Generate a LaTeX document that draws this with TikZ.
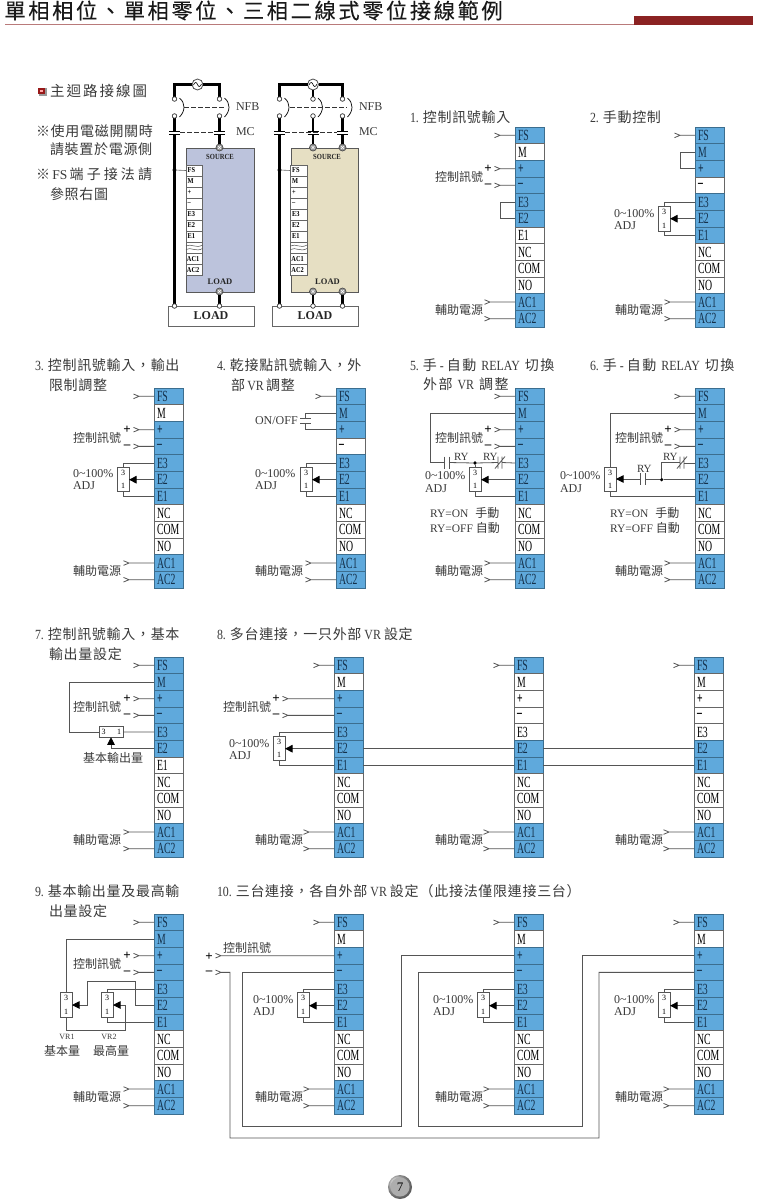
\documentclass[tikz,border=0pt]{standalone}
\usepackage{fontspec}
\usetikzlibrary{arrows.meta}
\setmainfont{Liberation Serif}
\newfontfamily\cjk{Noto Sans CJK TC}
\newfontfamily\cjkc[LetterSpace=5]{Noto Sans CJK TC}
\newfontfamily\cjkw[LetterSpace=11]{Noto Sans CJK TC}
\newfontfamily\cjkt[LetterSpace=12.5,FakeBold=0.2]{Noto Sans CJK TC}
\newfontfamily\narrowf[FakeStretch=0.63]{Liberation Serif}
\newfontfamily\ltn[FakeStretch=0.85]{Liberation Serif}
\newcommand\fsz[1]{\fontsize{#1}{#1}\selectfont}
\newcommand\ls[1]{{\ltn #1}}
\newcommand\cmm{\char"FF0C\relax}
\newcommand\lpr{\char"FF08\relax}
\newcommand\rpr{\char"FF09\relax}
\newcommand\mns{\char"2013\relax}
\definecolor{cellblue}{HTML}{5FA9DC}
\definecolor{bluebd}{HTML}{3C6E8F}
\definecolor{whitebd}{HTML}{666666}
\definecolor{celltxt}{HTML}{14304A}
\definecolor{wirec}{HTML}{555555}
\definecolor{txtc}{HTML}{3A3A3A}
\definecolor{boxa}{HTML}{BCC3DC}
\definecolor{boxb}{HTML}{E6DFC3}
\definecolor{titlered}{HTML}{8B2222}
\newcounter{tn}
\tikzset{
  cell/.style={rectangle,minimum width=29pt,minimum height=16.67pt,inner sep=0pt,outer sep=0pt,
    anchor=north west,line width=.7pt,align=left},
  wire/.style={draw=wirec,line width=.8pt},
  heavy wire/.style={draw=black,line width=2.2pt},
  vrbox/.style={rectangle,draw=wirec,fill=white,line width=.7pt,minimum width=12pt,minimum height=24.5pt,inner sep=0pt,outer sep=0pt},
  hvrbox/.style={rectangle,draw=wirec,fill=white,line width=.7pt,minimum width=24pt,minimum height=10.5pt,inner sep=0pt,outer sep=0pt},
  potarrow/.style={-{Triangle[length=7.5pt,width=7.5pt,fill=black,color=black]}},
  tlabel/.style={inner sep=0pt,outer sep=0pt,anchor=west,text=txtc},
  sterm/.style={rectangle,draw=whitebd,fill=white,line width=.6pt,minimum width=16.5pt,minimum height=11pt,inner sep=0pt,outer sep=0pt,anchor=north west},
  smallc/.style={circle,draw=black!75,fill=white,line width=.6pt,minimum size=4.4pt,inner sep=0pt,outer sep=0pt},
  screw/.style={circle,draw=black!70,fill=black!40,line width=.7pt,minimum size=7pt,inner sep=0pt,outer sep=0pt},
  acc/.style={circle,draw=black!70,fill=white,line width=.8pt,minimum size=11pt,inner sep=0pt,outer sep=0pt},
}
% text label: x, y, font, text
\newcommand\lab[4]{\stepcounter{tn}\node[tlabel,font=#3] (t\arabic{tn}) at (#1,#2) {#4};}
\newcommand\capt[3]{\lab{#1}{#2}{\cjkc\fsz{14}}{#3}}
\newcommand\capw[3]{\lab{#1}{#2}{\cjkw\fsz{14}}{#3}}
\newcommand\ser[3]{\lab{#1}{#2}{\rmfamily\fsz{12}}{#3}}
% terminal strip: name, x, y, 12 flags
\newcommand\tstrip[4]{%
  \foreach \k/\tt [count=\i from 0] in {FS/FS,M/M,P/\textbf{+},N/\textbf{\mns},E3/E3,E2/E2,E1/E1,NC/NC,COM/COM,NO/NO,AC1/AC1,AC2/AC2}{%
    \pgfmathparse{{#4}[\i]}%
    \ifdim\pgfmathresult pt>0.5pt
      \def\cf{cellblue}\def\cb{bluebd}\def\ct{celltxt}%
    \else
      \def\cf{white}\def\cb{whitebd}\def\ct{black}%
    \fi
    \node[cell,fill=\cf,draw=\cb,text=\ct] (#1-\k) at (#2,{#3+\i*16.67}) {};
    \node[inner sep=0pt,anchor=west,font=\narrowf\fsz{15.5},text=\ct] (#1-\k-t) at ([xshift=2.8pt]#1-\k.west) {\tt};
  }%
}
% wire with chevron: terminal, length
\newcommand\feed[2]{\draw[wire] (#1.west) -- ++(-#2,0) -- ++(-5.5,-2.3) ++(5.5,2.3) -- ++(-5.5,2.3);}
\newcommand\fsac[4]{% name, fs length, ac length, label x
  \feed{#1-FS}{#2}\feed{#1-AC1}{#3}\feed{#1-AC2}{#3}%
  \path (#1-AC1.west) -- (#1-AC2.west) coordinate[pos=.5] (#1-acm);
  \stepcounter{tn}\node[tlabel,font=\cjk\fsz{12}] (t\arabic{tn}) at (#4,0 |- #1-acm) {輔助電源};
}
% control signal inputs: name, label x, feed length
\newcommand\ctrl[3]{%
  \feed{#1-P}{#3}\feed{#1-N}{#3}%
  \path (#1-P.west) -- (#1-N.west) coordinate[pos=.5] (#1-cm);
  \stepcounter{tn}\node[tlabel,font=\cjk\fsz{12}] (t\arabic{tn}) at (#2,0 |- #1-cm) {控制訊號};
  \stepcounter{tn}\node[inner sep=0pt,font=\rmfamily\bfseries\fsz{13},text=black,xshift=-#3*1pt-12pt] (t\arabic{tn}) at (#1-P.west) {+};
  \stepcounter{tn}\node[inner sep=0pt,font=\rmfamily\bfseries\fsz{13},text=black,xshift=-#3*1pt-12pt] (t\arabic{tn}) at (#1-N.west) {\mns};
}
\newcommand\potbox[3]{% name, x centre, y centre
  \node[vrbox] (#1) at (#2,#3) {};
  \node[inner sep=0pt,font=\rmfamily\fsz{8},text=black] (#1-3) at ([yshift=6.7pt,xshift=.2pt]#1.center) {3};
  \node[inner sep=0pt,font=\rmfamily\fsz{8},text=black] (#1-1) at ([yshift=-6.7pt,xshift=.2pt]#1.center) {1};
}
\newcommand\potwire[2]{% pot, strip
  \draw[wire] (#2-E3.west) -| ([xshift=.2pt]#1.north);
  \draw[wire] (#2-E1.west) -| ([xshift=.2pt]#1.south);
  \draw[wire,potarrow,line width=.9pt] (#2-E2.west) -- (#1.east |- #2-E2.west);
}
\newcommand\adj[3]{\ser{#1}{#2}{0\textasciitilde 100\%}\ser{#1}{#3}{ADJ}}
% contact helpers
\newcommand\nocontact[2]{\draw[wire] (#1-4.5,#2-6)--(#1-4.5,#2+6) (#1,#2-6)--(#1,#2+6);}
\newcommand\nccontact[2]{\draw[wire] (#1-4,#2-6)--(#1-4,#2+6) (#1,#2-6)--(#1,#2+6) (#1-7,#2+6)--(#1+3,#2-6);}
% main circuit pieces
\newcommand\poleup[2]{%
  \node[smallc] (u#1) at (#2,99) {};
  \node[smallc] (l#1) at (#2,116) {};
  \node[smallc] (b#1) at (#2,306) {};
}
\newcommand\contact[1]{\draw[black,line width=.9pt] (#1-5.5,131)--(#1+5.5,131) (#1-5.5,134.2)--(#1+5.5,134.2);}
\newcommand\breaker[1]{\draw[black,line width=.7pt] (#1+5,98) .. controls (#1+11,103) and (#1+11,111) .. (#1+5,117);}
\newcommand\sterms[2]{% name, x
  \foreach \k/\tt [count=\i from 0] in {FS/FS,M/M,P/+,N/\mns,E3/E3,E2/E2,E1/E1}{%
    \node[sterm] (s#1-\k) at (#2,{165+\i*11}) {};
    \node[inner sep=0pt,anchor=west,font=\ltn\bfseries\fsz{7.5},text=black] (s#1-\k-t) at ([xshift=1.5pt]s#1-\k.west) {\tt};
  }
  \node[sterm,minimum height=11.5pt] (s#1-W) at (#2,242) {};
  \draw[black!70,line width=.5pt] (#2,246) .. controls (#2+5,243) and (#2+10,249) .. (#2+16.5,245)
    (#2,249.5) .. controls (#2+5,246.5) and (#2+10,252.5) .. (#2+16.5,248.5);
  \node[sterm] (s#1-AC1) at (#2,253.5) {};
  \node[inner sep=0pt,anchor=west,font=\ltn\bfseries\fsz{7.5},text=black] (s#1-AC1-t) at ([xshift=.7pt]s#1-AC1.west) {AC1};
  \node[sterm] (s#1-AC2) at (#2,264.5) {};
  \node[inner sep=0pt,anchor=west,font=\ltn\bfseries\fsz{7.5},text=black] (s#1-AC2-t) at ([xshift=.7pt]s#1-AC2.west) {AC2};
}
\begin{document}
\begin{tikzpicture}[x=1pt,y=-1pt]
\useasboundingbox (0,0) rectangle (758,1200);
\fill[white] (0,0) rectangle (758,1200);
% title
\node[tlabel,font=\cjkt\fsz{21.2},text=black!90] (title) at (4.5,10.5) {單相相位、單相零位、三相二線式零位接線範例};
\draw[titlered!60!white,line width=.7pt] (5,24.5) -- (634,24.5);
\fill[titlered] (634,16) rectangle (753,25);
% main notes
\fill[black!40] (38.5,88) rectangle (46.5,95.5);
\fill[red!55!black!90!white] (38.2,87.5) rectangle (45,94);
\fill[red!35!white] (40,89.5) rectangle (43.2,92.3);
\lab{50}{91}{\cjkc\fsz{14.5}\addfontfeature{LetterSpace=14}}{主迴路接線圖}
\lab{36}{131}{\cjkc\fsz{14}}{※使用電磁開關時}
\lab{50}{149.5}{\cjkc\fsz{14}}{請裝置於電源側}
\lab{36}{174}{\cjkc\fsz{14}}{※\,{\rmfamily\fsz{13.5}FS}\,\addfontfeature{LetterSpace=22}端子接法請}
\lab{50}{194}{\cjkc\fsz{14}}{參照右圖}
% main circuit boxes
\node[rectangle,fill=boxa,draw=black!65,line width=.7pt,minimum width=67.5pt,minimum height=144pt,inner sep=0pt,anchor=north west] (boxA) at (186,147.5) {};
\node[rectangle,fill=boxb,draw=black!65,line width=.7pt,minimum width=67pt,minimum height=144pt,inner sep=0pt,anchor=north west] (boxB) at (290.5,147.5) {};
\node[rectangle,fill=white,draw=black!60,line width=.7pt,minimum width=86pt,minimum height=20.5pt,inner sep=0pt,anchor=north west] (loadA) at (167.5,305.5) {};
\node[rectangle,fill=white,draw=black!60,line width=.7pt,minimum width=86pt,minimum height=20.5pt,inner sep=0pt,anchor=north west] (loadB) at (272,305.5) {};
\node[inner sep=0pt,font=\rmfamily\bfseries\fsz{12},text=black!85] (loadAt) at (211,316) {LOAD};
\node[inner sep=0pt,font=\rmfamily\bfseries\fsz{12},text=black!85] (loadBt) at (315,316) {LOAD};
% pole markers
\poleup{A}{174.5}\poleup{B}{219.5}\poleup{C}{279.5}\poleup{D}{313}\poleup{E}{342.5}
\node[acc] (acA) at (197.5,84.5) {};
\node[acc] (acB) at (313,84.5) {};
\draw[black,line width=.6pt] (193.5,85) .. controls (195,81.5) and (196.5,82) .. (197.5,84.5) .. controls (198.5,87) and (200,87.5) .. (201.5,84);
\draw[black,line width=.6pt] (309,85) .. controls (310.5,81.5) and (312,82) .. (313,84.5) .. controls (314,87) and (315.5,87.5) .. (317,84);
% heavy wires
\draw[heavy wire] (acA.west) -| (uA.north);
\draw[heavy wire] (acA.east) -| (uB.north);
\draw[heavy wire] (acB.west) -| (uC.north);
\draw[heavy wire] (acB.south) -- (uD.north);
\draw[heavy wire] (acB.east) -| (uE.north);
\draw[heavy wire] (lA.south) -- (bA.north);
\draw[heavy wire] (lC.south) -- (bC.north);
\node[screw] (sa1) at (219.5,147.5) {};
\node[screw] (sb1) at (313,147.5) {};
\node[screw] (sb2) at (342.5,147.5) {};
\node[screw] (la1) at (219.5,291.5) {};
\node[screw] (lb1) at (313,291.5) {};
\node[screw] (lb2) at (342.5,291.5) {};
\foreach \a/\b in {lB/sa1,lD/sb1,lE/sb2,la1/bB,lb1/bD,lb2/bE} \draw[heavy wire] (\a) -- (\b);
\foreach \a in {sa1,sb1,sb2,la1,lb1,lb2}{
  \draw[white,line width=.5pt] ([shift={(-1.5,-1.5)}]\a.center)--([shift={(1.5,1.5)}]\a.center) ([shift={(-1.5,1.5)}]\a.center)--([shift={(1.5,-1.5)}]\a.center);}
\foreach \a in {uA,lA,uB,lB,uC,lC,uD,lD,uE,lE,bA,bB,bC,bD,bE}
  \node[smallc] at (\a) {};
% breakers
\breaker{174.5}\breaker{219.5}\breaker{279.5}\breaker{313}\breaker{342.5}
\draw[black!80,line width=.6pt,dash pattern=on 4.5pt off 2.5pt] (184,107.5) -- (225,107.5);
\draw[black!80,line width=.6pt,dash pattern=on 4.5pt off 2.5pt] (290,107.5) -- (347,107.5);
\foreach \x in {174.5,219.5,279.5,313,342.5}{\fill[white] (\x-3,131.6) rectangle (\x+3,133.6);\contact{\x}}
\draw[black!80,line width=.6pt,dash pattern=on 4.5pt off 2.5pt] (180,132.5) -- (214,132.5);
\draw[black!80,line width=.6pt,dash pattern=on 4.5pt off 2.5pt] (285,132.5) -- (337,132.5);
\ser{236}{107}{NFB}\ser{236}{132}{MC}\ser{359}{107}{NFB}\ser{359}{132}{MC}
\node[inner sep=0pt,font=\ltn\bfseries\fsz{7.8},text=black!85] (srcA) at (220,157) {SOURCE};
\node[inner sep=0pt,font=\ltn\bfseries\fsz{7.8},text=black!85] (srcB) at (327,157) {SOURCE};
\node[inner sep=0pt,font=\rmfamily\bfseries\fsz{8.5},text=black!85] (lA) at (220,282) {LOAD};
\node[inner sep=0pt,font=\rmfamily\bfseries\fsz{8.5},text=black!85] (lB) at (327.5,282) {LOAD};
\sterms{A}{186}\sterms{B}{290.5}
\node[circle,fill=black,minimum size=4pt,inner sep=0pt] (dA) at (174.5,170) {};
\node[circle,fill=black,minimum size=4pt,inner sep=0pt] (dB) at (279.5,170) {};
\draw[black!60,line width=.6pt] (dA) -- (sA-FS.west);
\draw[black!60,line width=.6pt] (dB) -- (sB-FS.west);
% === panels
\capt{410}{117}{\ls{1. }控制訊號輸入}
\tstrip{p1}{515}{127}{1,0,1,1,1,1,0,0,0,0,1,1}
\fsac{p1}{15}{25}{435}\ctrl{p1}{435}{15}
\draw[wire] (p1-E3.west) -- ++(-15,0) |- (p1-E2.west);
%
\capt{590}{117}{\ls{2. }手動控制}
\tstrip{p2}{695}{127}{1,1,1,0,1,1,1,0,0,0,1,1}
\fsac{p2}{15}{25}{615}
\draw[wire] (p2-M.west) -- ++(-15,0) |- (p2-P.west);
\potbox{v2}{664}{219}\potwire{v2}{p2}\adj{614}{214}{226}
%
\capt{35}{365}{\ls{3. }控制訊號輸入\cmm 輸出}\capt{49}{385}{限制調整}
\tstrip{p3}{154}{388}{1,0,1,1,1,1,1,0,0,0,1,1}
\fsac{p3}{15}{25}{73}\ctrl{p3}{73}{15}
\potbox{v3}{123}{479.5}\potwire{v3}{p3}\adj{73}{474}{486}
%
\capt{217}{365}{\ls{4. }乾接點訊號輸入\cmm 外}\capt{231}{385}{部\,\ls{VR}\,調整}
\tstrip{p4}{336}{388}{1,1,1,0,1,1,1,0,0,0,1,1}
\fsac{p4}{15}{25}{255}
\coordinate (c4a) at (300,418.5);\coordinate (c4b) at (311,418.5);\coordinate (c4c) at (300,423.5);\coordinate (c4d) at (311,423.5);
\draw[wire] (c4a) -- (c4b) (c4c) -- (c4d);
\draw[wire] (p4-M.west) -| (305.5,418.5);
\draw[wire] (p4-P.west) -| (305.5,423.5);
\ser{255}{421}{ON/OFF}
\potbox{v4}{306}{479.5}\potwire{v4}{p4}\adj{255}{474}{486}
%
\capw{410}{365}{\ls{5. }手\hspace{3pt}\ls{-}\hspace{3pt}自動\hspace{5pt}\ls{RELAY}\hspace{5pt}切換}\capw{423}{384}{外部\hspace{5pt}\ls{VR}\hspace{5pt}調整}
\tstrip{p5}{515}{388}{1,1,1,1,1,1,1,0,0,0,1,1}
\fsac{p5}{15}{25}{435}\ctrl{p5}{435}{15}
\potbox{v5}{475}{479.5}
\draw[wire,potarrow,line width=.9pt] (p5-E2.west) -- (v5.east |- p5-E2.west);
\draw[wire] (p5-E1.west) -| (v5.south);
\node[circle,fill=black,minimum size=3.6pt,inner sep=0pt] (d5) at (v5.center |- p5-E3.west) {};
\draw[wire] (d5) -- (v5.north);
\draw[wire] (p5-M.west) -| (430,462.5) -- (444.5,462.5);
\nocontact{449}{462.5}
\draw[wire] (449,462.5) -- (d5) -- (498,462.5);
\nccontact{502}{462.5}
\draw[wire] (502,462.5) -- (p5-E3.west);
\lab{454}{456.5}{\rmfamily\fsz{11}}{RY}\lab{483}{456.5}{\rmfamily\fsz{11}}{RY}
\adj{425}{476}{489}
\lab{430}{513}{\rmfamily\fsz{11.5}}{RY=ON\hspace{7pt}{\cjk\fsz{12}手動}}
\lab{430}{528}{\rmfamily\fsz{11.5}}{RY=OFF\hspace{3pt}{\cjk\fsz{12}自動}}
%
\capw{590}{365}{\ls{6. }手\hspace{3pt}\ls{-}\hspace{3pt}自動\hspace{5pt}\ls{RELAY}\hspace{5pt}切換}
\tstrip{p6}{695}{388}{1,1,1,1,1,1,1,0,0,0,1,1}
\fsac{p6}{15}{25}{615}\ctrl{p6}{615}{15}
\potbox{v6}{610}{479.5}
\node[circle,fill=black,minimum size=3.6pt,inner sep=0pt] (d6) at (661.7,0 |- p6-E2.west) {};
\draw[wire] (p6-M.west) -| (v6.north);
\draw[wire] (p6-E1.west) -| (v6.south);
\draw[wire] (p6-E2.west) -- (d6) -- (645,0 |- d6);
\nocontact{645}{479}
\draw[wire,potarrow,line width=.9pt] (640.5,479) -- (v6.east |- 640.5,479);
\draw[wire] (p6-E3.west) -- (684,0 |- p6-E3.west);
\nccontact{684}{462.5}
\draw[wire] (680,462.5) -| (d6);
\lab{637}{469}{\rmfamily\fsz{11}}{RY}\lab{663}{457}{\rmfamily\fsz{11}}{RY}
\adj{560}{476}{489}
\lab{610}{513}{\rmfamily\fsz{11.5}}{RY=ON\hspace{7pt}{\cjk\fsz{12}手動}}
\lab{610}{528}{\rmfamily\fsz{11.5}}{RY=OFF\hspace{3pt}{\cjk\fsz{12}自動}}
%
\capt{35}{634}{\ls{7. }控制訊號輸入\cmm 基本}\capt{49}{654}{輸出量設定}
\tstrip{p7}{154}{657}{1,1,1,1,1,1,0,0,0,0,1,1}
\fsac{p7}{15}{25}{73}\ctrl{p7}{73}{15}
\node[hvrbox] (v7) at (111,732) {};
\node[inner sep=0pt,font=\rmfamily\fsz{8},text=black] (v7-3) at (103.5,732) {3};
\node[inner sep=0pt,font=\rmfamily\fsz{8},text=black] (v7-1) at (119,732) {1};
\draw[wire] (p7-M.west) -| (69,732) -- (v7.west);
\draw[wire] (v7.east) -- (p7-E3.west);
\draw[wire,potarrow,line width=.9pt] (p7-E2.west) -| (v7.south);
\lab{83}{758}{\cjk\fsz{12}}{基本輸出量}
%
\capt{217}{634}{\ls{8. }多台連接\cmm 一只外部\hspace{3pt}\ls{VR}\hspace{3pt}設定}
\tstrip{p8a}{334}{657}{1,0,1,1,1,1,1,0,0,0,1,1}
\tstrip{p8b}{514}{657}{1,0,0,0,0,1,1,0,0,0,1,1}
\tstrip{p8c}{694}{657}{1,0,0,0,0,1,1,0,0,0,1,1}
\fsac{p8a}{15}{25}{255}\fsac{p8b}{15}{25}{435}\fsac{p8c}{15}{25}{615}
\ctrl{p8a}{223}{46}
\potbox{v8}{279}{748.5}\potwire{v8}{p8a}\adj{229}{744}{756}
\draw[wire] (p8a-E2.east) -- (p8b-E2.west) (p8b-E2.east) -- (p8c-E2.west);
\draw[wire] (p8a-E1.east) -- (p8b-E1.west) (p8b-E1.east) -- (p8c-E1.west);
%
\capt{35}{891}{\ls{9. }基本輸出量及最高輸}\capt{49}{911}{出量設定}
\tstrip{p9}{154}{914}{1,1,1,1,1,1,1,0,0,0,1,1}
\fsac{p9}{15}{25}{73}\ctrl{p9}{73}{15}
\potbox{v9a}{66}{1005}\potbox{v9b}{107}{1005}
\draw[wire] (p9-M.west) -| (v9a.north);
\draw[wire] (p9-E3.west) -| (v9b.north);
\draw[wire] (p9-E1.west) -| (v9b.south);
\draw[wire,potarrow,line width=.9pt] (p9-E2.west) -| (135.5,981) -| (87,1005) -- (v9a.east);
\draw[wire,potarrow,line width=.9pt] (v9a.south) |- (125.5,1030) |- (v9b.east);
\node[inner sep=0pt,font=\rmfamily\fsz{8},text=txtc] (vr1) at (67,1037) {VR1};
\node[inner sep=0pt,font=\rmfamily\fsz{8},text=txtc] (vr2) at (109,1037) {VR2};
\lab{44}{1051}{\cjk\fsz{12}}{基本量}\lab{93}{1051}{\cjk\fsz{12}}{最高量}
%
\capt{217}{891}{\ls{10. }三台連接\cmm 各自外部\hspace{3pt}\ls{VR}\hspace{3pt}設定\hspace{1pt}\lpr 此接法僅限連接三台\rpr}
\tstrip{p10a}{334}{914}{1,0,1,1,1,1,1,0,0,0,1,1}
\tstrip{p10b}{514}{914}{1,0,1,1,1,1,1,0,0,0,1,1}
\tstrip{p10c}{694}{914}{1,0,1,1,1,1,1,0,0,0,1,1}
\fsac{p10a}{15}{25}{255}\fsac{p10b}{15}{25}{435}\fsac{p10c}{15}{25}{615}
\foreach \pp/\vv/\xx/\tx in {p10a/v10a/303/253,p10b/v10b/483/433,p10c/v10c/664/614}{
  \potbox{\vv}{\xx}{1005}\potwire{\vv}{\pp}\adj{\tx}{1000}{1012}
}
% series loop
\draw[wire] (p10a-P.west) -- ++(-113,0) -- ++(-5.5,-2.3) ++(5.5,2.3) -- ++(-5.5,2.3);
\draw[wire] (p10c-N.west) -| (599,1138) -| (230,0 |- p10c-N.west) -- ++(-9,0) -- ++(-5.5,-2.3) ++(5.5,2.3) -- ++(-5.5,2.3);
\draw[wire] (p10a-N.west) -| (242,1126) -| (401,0 |- p10b-P.west) -- (p10b-P.west);
\draw[wire] (p10b-N.west) -| (418,1126) -| (582,0 |- p10c-P.west) -- (p10c-P.west);
\node[inner sep=0pt,font=\rmfamily\bfseries\fsz{13},text=black] (t10p) at (209,956.5) {+};
\node[inner sep=0pt,font=\rmfamily\bfseries\fsz{13},text=black] (t10m) at (209,972.5) {\mns};
\lab{223}{948}{\cjk\fsz{12}}{控制訊號}
% page number
\shade[ball color=black!18] (400,1187) circle (12);
\fill[black!32] (400,1187) circle (9.5);
\node[inner sep=0pt,font=\rmfamily\fsz{13},text=black] (pg) at (400,1187) {7};
\end{tikzpicture}
\end{document}
